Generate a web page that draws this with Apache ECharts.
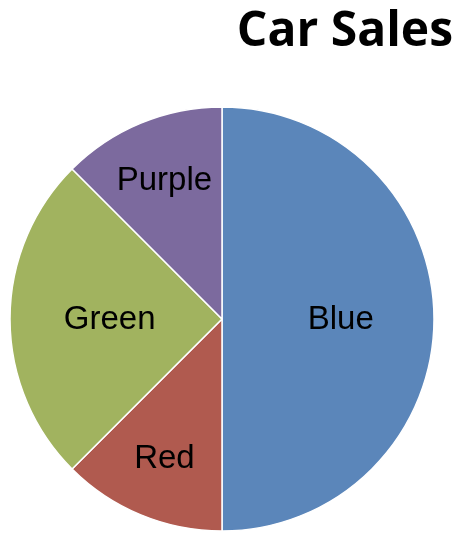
<!DOCTYPE html>
<html><head><meta charset="utf-8">
<script src="https://cdn.jsdelivr.net/npm/echarts@6/dist/echarts.min.js"></script>
<style>html,body{margin:0;padding:0;background:#fff}#c{width:456px;height:533px}</style>
</head><body><div id="c"></div>
<script>
const categories = ['Blue', 'Red', 'Green', 'Purple'];
const values = [50, 12.5, 25, 12.5];
const colors = ['#5B86BA', '#B05A4F', '#A1B35F', '#7C6A9E'];
const labelRadiusFactors = [0.56, 0.71, 0.53, 0.71];

const cx = 222, cy = 319, R = 212;
const total = values.reduce((a, b) => a + b, 0);
const midAngles = [];
let acc = 0;
values.forEach(v => { midAngles.push((acc + v / 2) / total * 2 * Math.PI); acc += v; });

const chart = echarts.init(document.getElementById('c'));
chart.setOption({
  animation: false,
  title: {
    text: 'Car Sales', right: -2, top: 3,
    textStyle: { fontFamily: 'Open Sans', fontWeight: 'bold', fontSize: 48, color: '#000' }
  },
  series: [{
    type: 'pie',
    center: [cx, cy],
    radius: R,
    startAngle: 90,
    clockwise: true,
    data: categories.map((c, i) => ({ name: c, value: values[i], itemStyle: { color: colors[i] } })),
    itemStyle: { borderColor: '#fff', borderWidth: 1.5 },
    label: {
      show: true, position: 'inside', formatter: '{b}',
      fontFamily: 'Liberation Sans', fontSize: 33, color: '#000'
    },
    labelLine: { show: false },
    labelLayout: function (p) {
      const i = p.dataIndex;
      const a = midAngles[i];
      const f = labelRadiusFactors[i] * R;
      return { x: cx + Math.sin(a) * f, y: cy - Math.cos(a) * f + 1, align: 'center', verticalAlign: 'middle' };
    }
  }]
});
</script></body></html>
